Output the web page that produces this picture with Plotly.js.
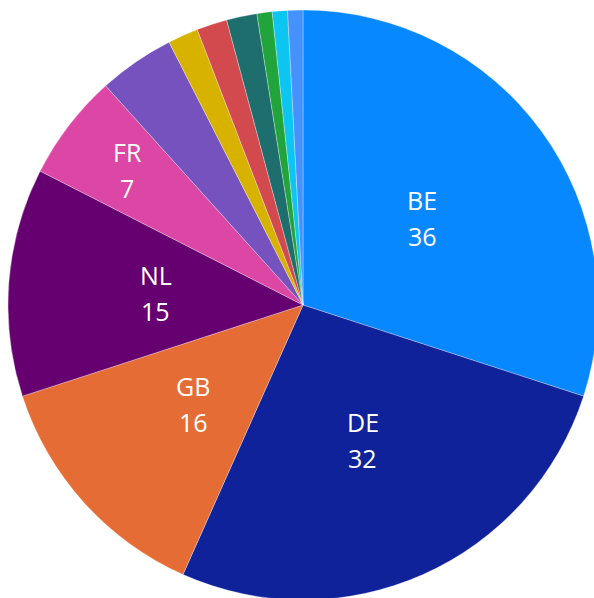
<!DOCTYPE html>
<html><head><meta charset="utf-8">
<script src="https://cdn.plot.ly/plotly-3.0.1.min.js"></script>
<style>html,body{margin:0;padding:0;overflow:hidden;background:#fff;width:594px;height:598px}</style>
</head><body>
<div id="chart"></div>
<script>
const categories = ["BE","DE","GB","NL","FR","IT","ES","LU","CH","AT","DK","SE"];
const values = [36,32,16,15,7,5,2,2,2,1,1,1];
const colors = ["#0788FF","#0F229A","#E66C35","#660070","#DC46A5","#7552BD","#D7B300","#D24A4E","#1E6E6E","#22A43D","#0CC5F0","#4592FF"];
const shown = ["BE","DE","GB","NL","FR"];
// label placement (fraction of radius) – layout, not data
const labelRadius = {BE:0.5, DE:0.5, GB:0.5, NL:0.5, FR:0.75};

const total = values.reduce((a,b)=>a+b,0);
const annotations = [];
let cum = 0;
const fnt = {family:"Open Sans, Noto Sans, sans-serif", size:25, color:"#ffffff"};
values.forEach((v,i)=>{
  const mid = (cum + v/2)/total*2*Math.PI; cum += v;
  const c = categories[i];
  if(!shown.includes(c)) return;
  const r = 0.5*labelRadius[c];
  const x = 0.5 + r*Math.sin(mid), y = 0.5 + r*Math.cos(mid);
  annotations.push({xref:"paper",yref:"paper",x:x,y:y,text:c,showarrow:false,font:fnt,yshift:18,xanchor:"center",yanchor:"middle"});
  annotations.push({xref:"paper",yref:"paper",x:x,y:y,text:String(v),showarrow:false,font:fnt,yshift:-18,xanchor:"center",yanchor:"middle"});
});

Plotly.newPlot("chart",[{
  type:"pie", labels:categories, values:values,
  textinfo:"none", sort:false, direction:"clockwise", rotation:0,
  marker:{colors:colors, line:{color:"rgba(255,255,255,0.6)", width:0.5}},
  hoverinfo:"label+value"
}],{
  width:600, height:600, showlegend:false, annotations:annotations,
  margin:{l:8,r:2,t:10,b:0}, paper_bgcolor:"#ffffff"
},{displayModeBar:false, staticPlot:true});
</script>
</body></html>
